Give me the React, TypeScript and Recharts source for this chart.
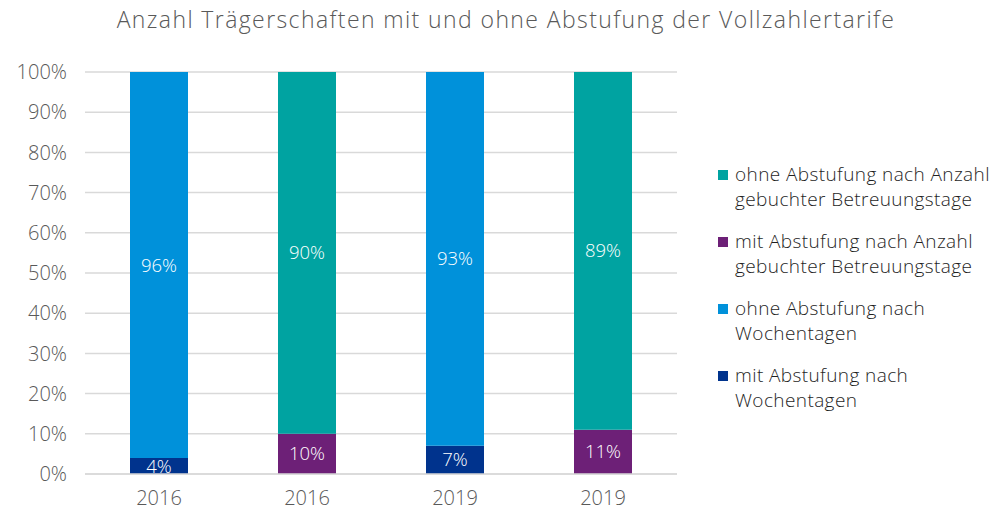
import { BarChart, Bar, XAxis, YAxis, CartesianGrid, LabelList } from "recharts";

const CATEGORIES = ["2016", "2016", "2019", "2019"];
const MIT_WOCHENTAGE = [4, null, 7, null];
const OHNE_WOCHENTAGE = [96, null, 93, null];
const MIT_ANZAHL = [null, 10, null, 11];
const OHNE_ANZAHL = [null, 90, null, 89];
const Y_TICKS = [0, 10, 20, 30, 40, 50, 60, 70, 80, 90, 100];

const SERIES = [
  { key: "mitWoche", name: "mit Abstufung nach Wochentagen", color: "#00338D" },
  { key: "ohneWoche", name: "ohne Abstufung nach Wochentagen", color: "#0091DA" },
  { key: "mitAnzahl", name: "mit Abstufung nach Anzahl gebuchter Betreuungstage", color: "#6D2077" },
  { key: "ohneAnzahl", name: "ohne Abstufung nach Anzahl gebuchter Betreuungstage", color: "#00A3A1" },
];

const LEGEND_LINES: Record<string, string[]> = {
  ohneAnzahl: ["ohne Abstufung nach Anzahl", "gebuchter Betreuungstage"],
  mitAnzahl: ["mit Abstufung nach Anzahl", "gebuchter Betreuungstage"],
  ohneWoche: ["ohne Abstufung nach", "Wochentagen"],
  mitWoche: ["mit Abstufung nach", "Wochentagen"],
};

const data = CATEGORIES.map((year, i) => ({
  idx: i,
  year,
  mitWoche: MIT_WOCHENTAGE[i],
  ohneWoche: OHNE_WOCHENTAGE[i],
  mitAnzahl: MIT_ANZAHL[i],
  ohneAnzahl: OHNE_ANZAHL[i],
}));

const FONT = "'Open Sans', Roboto, sans-serif";

function LegendBox() {
  const order = [...SERIES].reverse();
  return (
    <div
      style={{
        position: "absolute",
        left: 718,
        top: 162,
        fontFamily: FONT,
        fontWeight: 300,
        fontSize: 19,
        letterSpacing: 0.4,
        color: "#1f1f1f",
        lineHeight: "25px",
      }}
    >
      {order.map((s) => (
        <div key={s.key} style={{ position: "relative", paddingLeft: 17, marginBottom: 17 }}>
          <span
            style={{
              position: "absolute",
              left: 0,
              top: 8,
              width: 10,
              height: 10,
              background: s.color,
            }}
          />
          {LEGEND_LINES[s.key].map((l) => (
            <div key={l} style={{ whiteSpace: "nowrap" }}>{l}</div>
          ))}
        </div>
      ))}
    </div>
  );
}

const pct = (v: any) => (v == null ? "" : `${v}%`);

export default function App() {
  return (
    <div style={{ position: "absolute", left: 0, top: 0, width: 1008, height: 510, background: "#fff" }}>
      <div
        style={{
          position: "absolute",
          top: 3,
          left: 2,
          width: 1008,
          textAlign: "center",
          fontFamily: FONT,
          fontWeight: 300,
          fontSize: 23,
          letterSpacing: 1.4,
          color: "#595959",
        }}
      >
        Anzahl Trägerschaften mit und ohne Abstufung der Vollzahlertarife
      </div>
      <BarChart
        width={1008}
        height={510}
        data={data}
        margin={{ top: 72, right: 331, bottom: 6, left: 0 }}
        barSize={58}
      >
        <CartesianGrid vertical={false} stroke="#d9d9d9" strokeWidth={1.5} />
        <XAxis
          dataKey="idx"
          tickFormatter={(i: number) => CATEGORIES[i]}
          axisLine={{ stroke: "#d9d9d9", strokeWidth: 1.5 }}
          tickLine={false}
          height={30}
          tick={{ fill: "#595959", fontSize: 20, fontFamily: FONT, fontWeight: 300 }}
          tickMargin={11}
        />
        <YAxis
          domain={[0, 100]}
          ticks={Y_TICKS}
          tickFormatter={(v: number) => `${v}%`}
          axisLine={false}
          tickLine={false}
          width={85}
          tick={{ fill: "#595959", fontSize: 20, fontFamily: FONT, fontWeight: 300 }}
          tickMargin={12}
        />
        {SERIES.map((s) => (
          <Bar key={s.key} dataKey={s.key} name={s.name} stackId="a" fill={s.color} isAnimationActive={false}>
            <LabelList
              dataKey={s.key}
              position="center"
              formatter={pct}
              fill="#ffffff"
              style={{ fontSize: 18.5, fontFamily: FONT, fontWeight: 300 }}
            />
          </Bar>
        ))}
      </BarChart>
      <LegendBox />
    </div>
  );
}
